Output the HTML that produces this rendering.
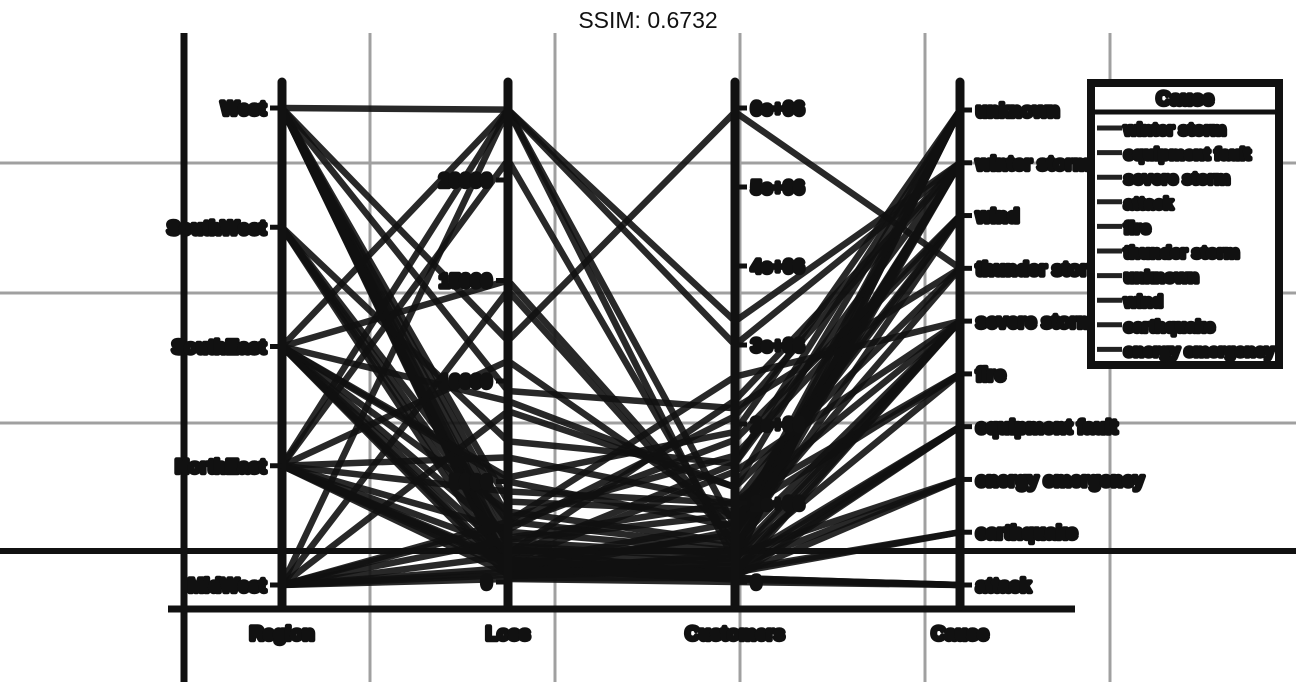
<!DOCTYPE html>
<html><head><meta charset="utf-8">
<style>
html,body{margin:0;padding:0;background:#fff;}
svg{display:block;}
.t{font-family:"Liberation Sans",sans-serif;font-weight:bold;fill:#111;stroke:#111;stroke-width:4.5;stroke-linejoin:round;}
</style></head>
<body>
<svg id="chart" width="1296" height="682" viewBox="0 0 1296 682" xmlns="http://www.w3.org/2000/svg">
<text x="648" y="28" text-anchor="middle" font-family="Liberation Sans, sans-serif" font-size="23" fill="#111">SSIM: 0.6732</text>
<g id="grid"></g>
<g id="lines"></g>
<g id="axes"></g>
<g id="legend"></g>
</svg>
<script>
const regions = ["West","SouthWest","SouthEast","NorthEast","MidWest"];
const causes = ["unknown","winter storm","wind","thunder storm","severe storm","fire","equipment fault","energy emergency","earthquake","attack"];
const legendCauses = ["winter storm","equipment fault","severe storm","attack","fire","thunder storm","unknown","wind","earthquake","energy emergency"];
const lossTicks = [0,5000,10000,15000,20000];
const custTicks = [0,1000000,2000000,3000000,4000000,5000000,6000000];
const custTickLabels = ["0","1e+06","2e+06","3e+06","4e+06","5e+06","6e+06"];
const recRegion = [0,0,0,0,0,0,0,0,0,0,0,0,1,1,1,1,1,2,2,2,2,2,2,2,2,2,2,3,3,3,3,3,3,3,3,3,3,3,4,4,4,4,4,4,4,4,4,4,0,2,3,4];
const recLoss = [800,1500,12000,300,2500,600,4000,200,1800,900,3200,23500,2000,500,7000,1200,3000,23500,15000,9000,1400,600,3500,2200,800,5200,300,23500,21000,11000,4500,1000,2600,700,1700,400,6200,900,23500,14500,8500,3000,1300,500,2100,700,350,2800,9500,5000,1100,150];
const recCust = [600000,250000,5950000,150000,400000,100000,900000,50000,300000,750000,1600000,250000,350000,80000,1500000,200000,450000,700000,600000,1200000,2300000,150000,500000,1000000,50000,1900000,200000,3000000,400000,800000,1000000,1400000,2100000,300000,60000,650000,1000000,120000,3300000,500000,1200000,2600000,1500000,350000,850000,30000,250000,1800000,2200000,700000,100000,0];
const recCause = [1,0,3,4,1,6,2,9,4,1,2,0,4,7,0,6,2,1,0,3,1,8,4,5,9,0,7,1,0,1,2,4,1,5,6,3,4,8,1,1,0,4,1,7,5,9,6,2,3,0,4,9];

const NS="http://www.w3.org/2000/svg";
function mk(tag,attrs,parent){const e=document.createElementNS(NS,tag);for(const k in attrs)e.setAttribute(k,attrs[k]);parent.appendChild(e);return e;}
const AX={region:282,loss:508,cust:735,cause:960};
function yRegion(i){return 108+i*(585-108)/4;}
function yLoss(v){return 582-v*(582-180)/20000;}
function yCust(v){return 582-v*(582-108)/6000000;}
function yCause(i){return 110+i*(585-110)/9;}

const grid=document.getElementById('grid');
[370,555,740,925,1110].forEach(x=>{const l=mk('line',{x1:x,y1:33,x2:x,y2:682,stroke:'#a0a0a0','stroke-width':3},grid);});
[163,293,423].forEach(y=>{const l=mk('line',{x1:0,y1:y,x2:1296,y2:y,stroke:'#a0a0a0','stroke-width':3},grid);});
let e=mk('line',{x1:184,y1:33,x2:184,y2:682,stroke:'#111','stroke-width':7},grid);


e=mk('line',{x1:0,y1:551,x2:1296,y2:551,stroke:'#111','stroke-width':6},grid);



const lines=document.getElementById('lines');
for(let i=0;i<recRegion.length;i++){
  const pts=[[AX.region,yRegion(recRegion[i])],[AX.loss,yLoss(recLoss[i])],[AX.cust,yCust(recCust[i])],[AX.cause,yCause(recCause[i])]];
  const p=mk('polyline',{points:pts.map(q=>q.join(',')).join(' '),fill:'none',stroke:'#111','stroke-width':6.5,'stroke-opacity':0.9,'stroke-linejoin':'round'},lines);
  
  
}

const axes=document.getElementById('axes');
e=mk('line',{x1:168,y1:609,x2:1075,y2:609,stroke:'#111','stroke-width':7},axes);


function axis(x,name,title){
  const l=mk('line',{x1:x,y1:82,x2:x,y2:606,stroke:'#111','stroke-width':9,'stroke-linecap':'round'},axes);
  
  
  const t=mk('text',{x:x,y:640,'text-anchor':'middle','font-size':19,class:'t'},axes);t.textContent=title;
  
  
}
function tick(x,y,label,side){
  mk('line',{x1:side<0?x-12:x,y1:y,x2:side<0?x:x+12,y2:y,stroke:'#111','stroke-width':5},axes);
  const t=mk('text',{x:side<0?x-16:x+16,y:y+7,'text-anchor':side<0?'end':'start','font-size':19,class:'t'},axes);t.textContent=label;
  
  
}
axis(AX.region,'region','Region');axis(AX.loss,'loss','Loss');axis(AX.cust,'customers','Customers');axis(AX.cause,'cause','Cause');
regions.forEach((r,i)=>tick(AX.region,yRegion(i),r,-1));
lossTicks.forEach(v=>tick(AX.loss,yLoss(v),String(v),-1));
custTicks.forEach((v,i)=>tick(AX.cust,yCust(v),custTickLabels[i],1));
causes.forEach((c,i)=>tick(AX.cause,yCause(i),c,1));

const lg=document.getElementById('legend');
e=mk('rect',{x:1091,y:83,width:188,height:282,fill:'#fff',stroke:'#111','stroke-width':8},lg);


mk('line',{x1:1091,y1:112,x2:1279,y2:112,stroke:'#111','stroke-width':5},lg);
let t=mk('text',{x:1185,y:105,'text-anchor':'middle','font-size':19,class:'t'},lg);t.textContent='Cause';


legendCauses.forEach((c,i)=>{
  const y=128+i*24.6;
  mk('line',{x1:1097,y1:y,x2:1122,y2:y,stroke:'#222','stroke-width':5},lg);
  const tt=mk('text',{x:1124,y:y+7,'font-size':17,class:'t'},lg);tt.textContent=c;
  
  
});
</script>
</body></html>
